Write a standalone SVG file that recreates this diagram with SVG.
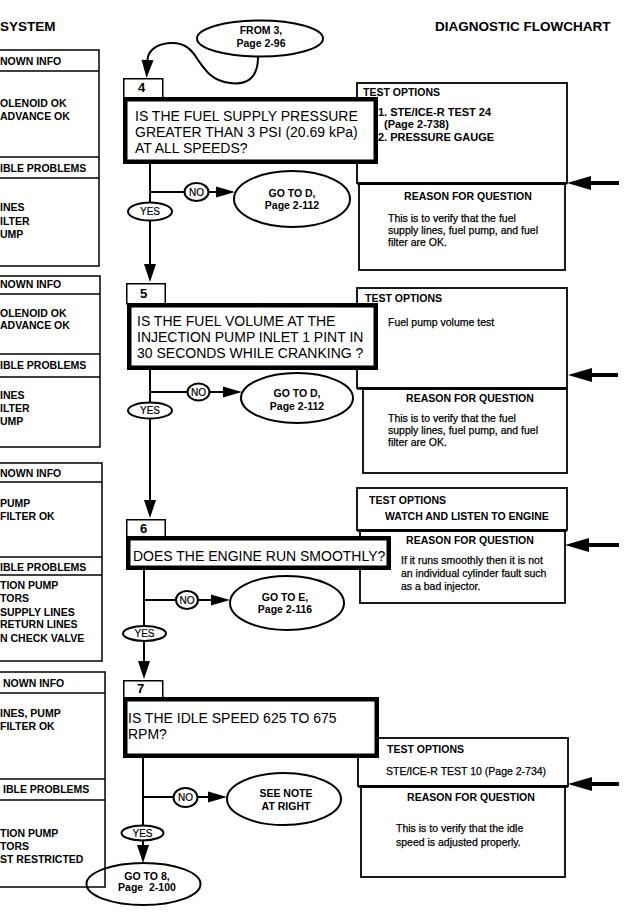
<svg xmlns="http://www.w3.org/2000/svg" width="632" height="913" viewBox="0 0 632 913">
<style>
text{font-family:"Liberation Sans",Arial,sans-serif;fill:#000}
.t{font-size:13.5px;font-weight:bold}
.q{font-size:14px}
.h{font-size:10.5px;font-weight:bold}
.b{font-size:10.5px;stroke:#000;stroke-width:0.25}
.lb{font-size:10.5px;font-weight:bold;text-anchor:middle}
.yn{font-size:10px;text-anchor:middle;stroke:#000;stroke-width:0.2}
.num{font-size:13px;font-weight:bold}
.panel{fill:none;stroke:#000;stroke-width:1.5}
.box{fill:#fff;stroke:#000;stroke-width:1.8}
.qb{fill:#fff;stroke:#000;stroke-width:4.5}
.tab{fill:#fff;stroke:#000;stroke-width:1.5}
.el{fill:#fff;stroke:#000;stroke-width:2}
.ln{fill:none;stroke:#000;stroke-width:2}
.big{fill:none;stroke:#000;stroke-width:4}
</style>
<defs>
<marker id="ah" markerUnits="userSpaceOnUse" markerWidth="20" markerHeight="14" refX="0" refY="6" orient="auto" overflow="visible">
<path d="M0,0 L18,6 L0,12 z" fill="#000"/>
</marker>
<marker id="ahh" markerUnits="userSpaceOnUse" markerWidth="20" markerHeight="12" refX="0" refY="5.5" orient="auto" overflow="visible">
<path d="M0,0 L19,5.5 L0,11 z" fill="#000"/>
</marker>
<marker id="abig" markerUnits="userSpaceOnUse" markerWidth="26" markerHeight="16" refX="0" refY="7" orient="auto" overflow="visible">
<path d="M0,0 L24,7 L0,14 z" fill="#000"/>
</marker>
</defs>

<text class="t" x="0" y="31">SYSTEM</text>
<text class="t" x="435" y="31">DIAGNOSTIC FLOWCHART</text>

<g id="panel1">
<rect class="panel" x="-2" y="50" width="101" height="216"/>
<line class="panel" x1="-2" y1="71" x2="99" y2="71"/>
<line class="panel" x1="-2" y1="157" x2="99" y2="157"/>
<line class="panel" x1="-2" y1="178" x2="99" y2="178"/>
<text class="h" x="0" y="65">NOWN INFO</text>
<text class="h" x="0" y="107">OLENOID OK</text>
<text class="h" x="0" y="120">ADVANCE OK</text>
<text class="h" x="0" y="172">IBLE PROBLEMS</text>
<text class="h" x="0" y="211">INES</text>
<text class="h" x="0" y="225">ILTER</text>
<text class="h" x="0" y="238">UMP</text>
</g>
<g id="panel2">
<rect class="panel" x="-2" y="276" width="102" height="171"/>
<line class="panel" x1="-2" y1="294" x2="100" y2="294"/>
<line class="panel" x1="-2" y1="354" x2="100" y2="354"/>
<line class="panel" x1="-2" y1="377" x2="100" y2="377"/>
<text class="h" x="0" y="288">NOWN INFO</text>
<text class="h" x="0" y="317">OLENOID OK</text>
<text class="h" x="0" y="329">ADVANCE OK</text>
<text class="h" x="0" y="369">IBLE PROBLEMS</text>
<text class="h" x="0" y="399">INES</text>
<text class="h" x="0" y="412">ILTER</text>
<text class="h" x="0" y="425">UMP</text>
</g>
<g id="panel3">
<rect class="panel" x="-2" y="463" width="104" height="198"/>
<line class="panel" x1="-2" y1="482" x2="102" y2="482"/>
<line class="panel" x1="-2" y1="557" x2="102" y2="557"/>
<line class="panel" x1="-2" y1="575" x2="102" y2="575"/>
<text class="h" x="0" y="477">NOWN INFO</text>
<text class="h" x="0" y="507">PUMP</text>
<text class="h" x="0" y="520">FILTER OK</text>
<text class="h" x="0" y="571">IBLE PROBLEMS</text>
<text class="h" x="0" y="589">TION PUMP</text>
<text class="h" x="0" y="602">TORS</text>
<text class="h" x="0" y="616">SUPPLY LINES</text>
<text class="h" x="0" y="628">RETURN LINES</text>
<text class="h" x="0" y="642">N CHECK VALVE</text>
</g>
<g id="panel4">
<rect class="panel" x="-2" y="672" width="107" height="215"/>
<line class="panel" x1="-2" y1="693" x2="105" y2="693"/>
<line class="panel" x1="-2" y1="779" x2="105" y2="779"/>
<line class="panel" x1="-2" y1="800" x2="105" y2="800"/>
<text class="h" x="3" y="687">NOWN INFO</text>
<text class="h" x="0" y="717">INES, PUMP</text>
<text class="h" x="0" y="730">FILTER OK</text>
<text class="h" x="3" y="793">IBLE PROBLEMS</text>
<text class="h" x="0" y="837">TION PUMP</text>
<text class="h" x="0" y="850">TORS</text>
<text class="h" x="0" y="863">ST RESTRICTED</text>
</g>

<g id="connectors">
<path class="ln" d="M258,57 C258,80 245,85 230,83 C212,81 205,70 198,60 C192,50 185,42 170,43 C157,44 148,50 147.5,60" marker-end="url(#ah)"/>
<line class="ln" x1="150" y1="163" x2="150" y2="264" marker-end="url(#ah)"/>
<line class="ln" x1="150" y1="192" x2="185" y2="192"/>
<line class="ln" x1="208" y1="192" x2="216" y2="192" marker-end="url(#ahh)"/>
<line class="ln" x1="150" y1="369" x2="150" y2="500" marker-end="url(#ah)"/>
<line class="ln" x1="150" y1="392" x2="188" y2="392"/>
<line class="ln" x1="209" y1="392" x2="223" y2="392" marker-end="url(#ahh)"/>
<line class="ln" x1="144" y1="569" x2="144" y2="661" marker-end="url(#ah)"/>
<line class="ln" x1="144" y1="600" x2="177" y2="600"/>
<line class="ln" x1="198" y1="600" x2="211" y2="600" marker-end="url(#ahh)"/>
<line class="ln" x1="143" y1="757" x2="143" y2="845" marker-end="url(#ah)"/>
<line class="ln" x1="143" y1="797" x2="174" y2="797"/>
<line class="ln" x1="197" y1="797" x2="208" y2="797" marker-end="url(#ahh)"/>
<line class="big" x1="619" y1="183" x2="591" y2="183" marker-end="url(#abig)"/>
<line class="big" x1="618" y1="375" x2="592" y2="375" marker-end="url(#abig)"/>
<line class="big" x1="619" y1="545" x2="589" y2="545" marker-end="url(#abig)"/>
<line class="big" x1="619" y1="784" x2="592" y2="784" marker-end="url(#abig)"/>
</g>

<g id="from3">
<ellipse class="el" cx="260" cy="38.5" rx="63" ry="18"/>
<text class="lb" x="261" y="34">FROM 3,</text>
<text class="lb" x="261" y="47">Page 2-96</text>
</g>

<g id="test4">
<rect class="box" x="357" y="83" width="210" height="100"/>
<rect class="box" x="359" y="184" width="206" height="86"/>
<line x1="357" y1="183.5" x2="567" y2="183.5" stroke="#000" stroke-width="2.5"/>
<text class="h" x="363" y="96">TEST OPTIONS</text>
<text class="h" x="378" y="116" style="font-size:11px">1. STE/ICE-R TEST 24</text>
<text class="h" x="384" y="128" style="font-size:11px">(Page 2-738)</text>
<text class="h" x="378" y="141" style="font-size:11px">2. PRESSURE GAUGE</text>
<text class="lb" x="468" y="200">REASON FOR QUESTION</text>
<text class="b" x="388" y="222">This is to verify that the fuel</text>
<text class="b" x="388" y="234">supply lines, fuel pump, and fuel</text>
<text class="b" x="388" y="246">filter are OK.</text>
</g>
<g id="step4">
<rect class="tab" x="123.75" y="78.75" width="39" height="19"/>
<text class="num" x="138" y="92">4</text>
<rect class="qb" x="125.25" y="99.25" width="250.5" height="62.5"/>
<text class="q" x="135" y="121">IS THE FUEL SUPPLY PRESSURE</text>
<text class="q" x="135" y="137">GREATER THAN 3 PSI (20.69 kPa)</text>
<text class="q" x="135" y="153">AT ALL SPEEDS?</text>
</g>
<g id="no4"><ellipse class="el" cx="196.5" cy="192" rx="12" ry="9"/><text class="yn" x="196.5" y="195.5">NO</text></g>
<g id="yes4"><ellipse class="el" cx="150" cy="211.5" rx="22" ry="9"/><text class="yn" x="150" y="215">YES</text></g>
<g id="gotoD1">
<ellipse class="el" cx="292" cy="199" rx="58" ry="28"/>
<text class="lb" x="292" y="197">GO TO D,</text>
<text class="lb" x="292" y="209">Page 2-112</text>
</g>

<g id="test5">
<rect class="box" x="357" y="288" width="210" height="100"/>
<rect class="box" x="363" y="389" width="204" height="84"/>
<line x1="357" y1="388.5" x2="567" y2="388.5" stroke="#000" stroke-width="2.5"/>
<text class="h" x="365" y="302">TEST OPTIONS</text>
<text class="b" x="388" y="326">Fuel pump volume test</text>
<text class="lb" x="470" y="402">REASON FOR QUESTION</text>
<text class="b" x="388" y="422">This is to verify that the fuel</text>
<text class="b" x="388" y="434">supply lines, fuel pump, and fuel</text>
<text class="b" x="388" y="446">filter are OK.</text>
</g>
<g id="step5">
<rect class="tab" x="126.75" y="283.75" width="38.5" height="20"/>
<text class="num" x="140" y="298">5</text>
<rect class="qb" x="129.25" y="305.25" width="246.5" height="62.5"/>
<text class="q" x="137" y="326">IS THE FUEL VOLUME AT THE</text>
<text class="q" x="137" y="342">INJECTION PUMP INLET 1 PINT IN</text>
<text class="q" x="137" y="358">30 SECONDS WHILE CRANKING ?</text>
</g>
<g id="no5"><ellipse class="el" cx="198.5" cy="392" rx="11" ry="8.5"/><text class="yn" x="198.5" y="395.5">NO</text></g>
<g id="yes5"><ellipse class="el" cx="150" cy="410.5" rx="22" ry="8"/><text class="yn" x="150" y="414">YES</text></g>
<g id="gotoD2">
<ellipse class="el" cx="297" cy="398" rx="56" ry="25"/>
<text class="lb" x="297" y="397">GO TO D,</text>
<text class="lb" x="297" y="410">Page 2-112</text>
</g>

<g id="test6">
<rect class="box" x="357" y="488" width="210" height="42"/>
<rect class="box" x="360" y="531" width="205" height="72"/>
<line x1="357" y1="530.5" x2="567" y2="530.5" stroke="#000" stroke-width="2.5"/>
<text class="h" x="369" y="504">TEST OPTIONS</text>
<text class="h" x="385" y="520">WATCH AND LISTEN TO ENGINE</text>
<text class="lb" x="470" y="544">REASON FOR QUESTION</text>
<text class="b" x="401" y="564">If it runs smoothly then it is not</text>
<text class="b" x="401" y="577">an individual cylinder fault such</text>
<text class="b" x="401" y="590">as a bad injector.</text>
</g>
<g id="step6">
<rect class="tab" x="126.75" y="519.75" width="38.5" height="17"/>
<text class="num" x="140" y="533">6</text>
<rect class="qb" x="128.25" y="538.25" width="260.5" height="29.5"/>
<text class="q" x="133" y="561">DOES THE ENGINE RUN SMOOTHLY?</text>
</g>
<g id="no6"><ellipse class="el" cx="187" cy="600" rx="11" ry="9"/><text class="yn" x="187" y="603.5">NO</text></g>
<g id="yes6"><ellipse class="el" cx="144.5" cy="633.5" rx="21.5" ry="7.5"/><text class="yn" x="144.5" y="637">YES</text></g>
<g id="gotoE">
<ellipse class="el" cx="287" cy="603" rx="57" ry="27"/>
<text class="lb" x="285" y="601">GO TO E,</text>
<text class="lb" x="285" y="613">Page 2-116</text>
</g>

<g id="test7">
<rect class="box" x="358" y="738" width="210" height="48"/>
<rect class="box" x="361" y="787" width="204" height="90"/>
<line x1="358" y1="786.5" x2="568" y2="786.5" stroke="#000" stroke-width="2.5"/>
<text class="h" x="387" y="753">TEST OPTIONS</text>
<text class="b" x="386" y="775">STE/ICE-R TEST 10 (Page 2-734)</text>
<text class="lb" x="471" y="801">REASON FOR QUESTION</text>
<text class="b" x="396" y="832">This is to verify that the idle</text>
<text class="b" x="396" y="846">speed is adjusted properly.</text>
</g>
<g id="step7">
<rect class="tab" x="123.75" y="680.75" width="39" height="19"/>
<text class="num" x="137" y="693">7</text>
<rect class="qb" x="125.25" y="699.25" width="251.5" height="56.5"/>
<text class="q" x="128" y="723">IS THE IDLE SPEED 625 TO 675</text>
<text class="q" x="128" y="739">RPM?</text>
</g>
<g id="no7"><ellipse class="el" cx="185.5" cy="797.5" rx="12" ry="9.5"/><text class="yn" x="185.5" y="801">NO</text></g>
<g id="yes7"><ellipse class="el" cx="142.5" cy="833" rx="21" ry="7.5"/><text class="yn" x="142.5" y="836.5">YES</text></g>
<g id="seenote">
<ellipse class="el" cx="284" cy="799" rx="57" ry="26"/>
<text class="lb" x="286" y="797">SEE NOTE</text>
<text class="lb" x="286" y="810">AT RIGHT</text>
</g>
<g id="goto8">
<ellipse class="el" cx="143.5" cy="884" rx="57" ry="21" style="fill:none"/>
<text class="lb" x="147" y="880">GO TO 8,</text>
<text class="lb" x="147" y="891" style="white-space:pre">Page  2-100</text>
</g>
</svg>
